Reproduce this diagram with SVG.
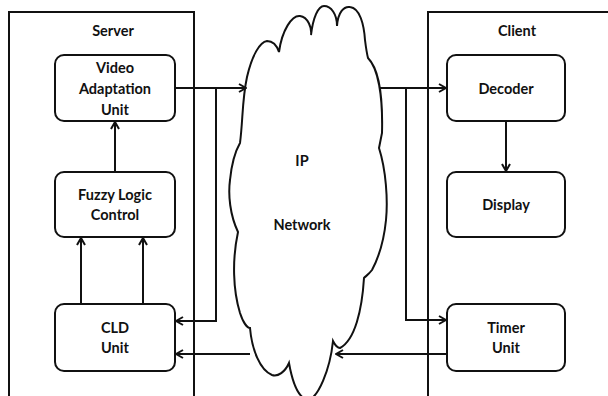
<svg xmlns="http://www.w3.org/2000/svg" width="608" height="396" viewBox="0 0 608 396">
<style>
.frame{fill:none;stroke:#111;stroke-width:2}
.box{fill:#fff;stroke:#111;stroke-width:2}
.cloud{fill:#fff;stroke:#111;stroke-width:2;stroke-linejoin:miter}
.lbl{font-family:Lato,"Open Sans","Liberation Sans",sans-serif;font-weight:bold;font-size:14.5px;fill:#111;text-anchor:middle}
.conn{fill:none;stroke:#111;stroke-width:2}
</style>
<defs>
<marker id="arr" viewBox="0 0 10 10" refX="9" refY="5" markerWidth="10" markerHeight="10" markerUnits="userSpaceOnUse" orient="auto">
<path d="M2,1 L9,5 L2,9" fill="none" stroke="#111" stroke-width="2"/>
</marker>
</defs>
<rect width="608" height="396" fill="#fff"/>
<g id="server">
<rect class="frame" x="9" y="12" width="185" height="400"/>
<text class="lbl" x="113" y="36">Server</text>
</g>
<g id="client">
<rect class="frame" x="428" y="12" width="200" height="400"/>
<text class="lbl" x="517" y="36">Client</text>
</g>
<g id="ip-network">
<path class="cloud" d="M279,52 C282,30 292,15 300,16 C308,17 312,28 311,35 C313,18 318,6 324,6 C331,6 337,14 337,26 C338,12 344,6 350,7 C360,8 364,25 365,40 C366,48 367,54 368,58 C378,68 383,95 382,133 C381,138 380,143 379,148 C386,170 388,200 386,220 C384,240 380,255 372,270 C369,274 366,276 364,278 C362,310 355,340 340,348 C337,348 335,345 333,341 C330,370 318,398 308,400 C298,398 292,380 289,363 C285,372 278,377 272,375 C260,370 252,350 250,328 C247,328 243,322 240,313 C233,290 232,260 238,232 C230,215 228,195 230,180 C232,160 236,150 240,143 C243,120 242,100 247,77 C252,55 260,42 267,41 C273,41 277,46 279,52 Z"/>
<text class="lbl" x="302" y="166">IP</text>
<text class="lbl" x="302" y="230">Network</text>
</g>
<g id="video-adaptation-unit">
<rect class="box" x="55" y="55" width="120" height="66" rx="9"/>
<text class="lbl" x="115" y="73">Video</text>
<text class="lbl" x="115" y="94">Adaptation</text>
<text class="lbl" x="115" y="115">Unit</text>
</g>
<g id="fuzzy-logic-control">
<rect class="box" x="55" y="172" width="120" height="65" rx="9"/>
<text class="lbl" x="115" y="200">Fuzzy Logic</text>
<text class="lbl" x="115" y="220">Control</text>
</g>
<g id="cld-unit">
<rect class="box" x="55" y="304" width="120" height="67" rx="9"/>
<text class="lbl" x="115" y="333">CLD</text>
<text class="lbl" x="115" y="353">Unit</text>
</g>
<g id="decoder">
<rect class="box" x="447" y="55" width="118" height="66" rx="9"/>
<text class="lbl" x="506" y="94">Decoder</text>
</g>
<g id="display">
<rect class="box" x="447" y="172" width="118" height="65" rx="9"/>
<text class="lbl" x="506" y="210">Display</text>
</g>
<g id="timer-unit">
<rect class="box" x="447" y="304" width="118" height="67" rx="9"/>
<text class="lbl" x="506" y="333">Timer</text>
<text class="lbl" x="506" y="353">Unit</text>
</g>
<g id="connectors">
<path class="conn" d="M115,172 L115,122" marker-end="url(#arr)"/>
<path class="conn" d="M81,304 L81,238" marker-end="url(#arr)"/>
<path class="conn" d="M143,304 L143,238" marker-end="url(#arr)"/>
<path class="conn" d="M175,88 L246,88" marker-end="url(#arr)"/>
<path class="conn" d="M216,88 L216,321 L176,321" marker-end="url(#arr)"/>
<path class="conn" d="M250,354 L176,354" marker-end="url(#arr)"/>
<path class="conn" d="M506,121 L506,171" marker-end="url(#arr)"/>
<path class="conn" d="M380,88 L446,88" marker-end="url(#arr)"/>
<path class="conn" d="M406,88 L406,320 L446,320" marker-end="url(#arr)"/>
<path class="conn" d="M446,354 L336,354" marker-end="url(#arr)"/>
</g>
</svg>
